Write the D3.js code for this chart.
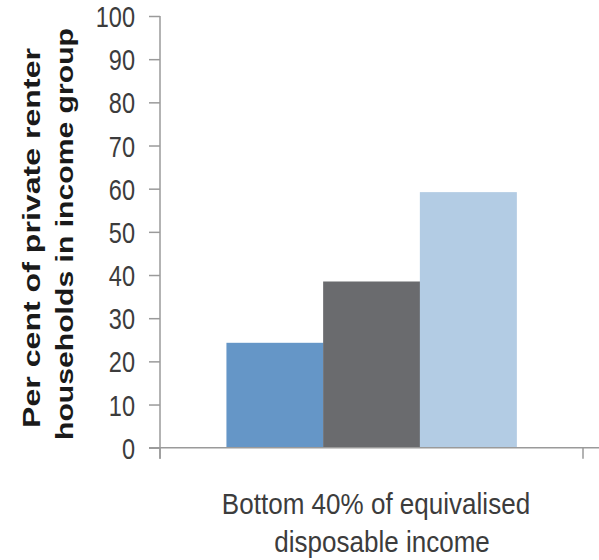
<!DOCTYPE html>
<html>
<head>
<meta charset="utf-8">
<script src="https://cdn.jsdelivr.net/npm/d3@7/dist/d3.min.js"></script>
<style>
  html, body { margin: 0; padding: 0; background: #fff; }
  svg { display: block; }
</style>
</head>
<body>
<svg id="chart" width="599" height="560"></svg>
<script>
// ---- data ----
const categories = ["Bottom 40% of equivalised disposable income"];
const categoryLines = ["Bottom 40% of equivalised", "disposable income"];
const seriesNames = ["Series 1", "Series 2", "Series 3"];
const seriesValues = [24.3, 38.5, 59.2];
const seriesColors = ["#6596c7", "#6a6b6e", "#b3cce4"];
const yTicks = [0, 10, 20, 30, 40, 50, 60, 70, 80, 90, 100];
const yTitleLines = ["Per cent of private renter", "households in income group"];

// ---- layout ----
const svg = d3.select("#chart");
const x0 = 160, x1 = 583, yBottom = 447.7, yTop = 16;
const axisColor = "#9a9a9a";
const textColor = "#3c3c3c";

const y = d3.scaleLinear().domain([0, 100]).range([yBottom, yTop]);
const xCat = d3.scaleBand().domain(categories).range([x0, x1]).paddingInner(0).paddingOuter(0.229);
const xSer = d3.scaleBand().domain(seriesNames).range([0, xCat.bandwidth()]).padding(0);

// bars
const g = svg.append("g");
categories.forEach(cat => {
  g.selectAll("rect.bar")
    .data(seriesNames.map((s, i) => ({ s, v: seriesValues[i], c: seriesColors[i] })))
    .enter().append("rect")
    .attr("class", "bar")
    .attr("x", d => xCat(cat) + xSer(d.s))
    .attr("width", xSer.bandwidth() + 0.3)
    .attr("y", d => y(d.v))
    .attr("height", d => y(0) - y(d.v))
    .attr("fill", d => d.c);
});

// y axis
const yAxis = d3.axisLeft(y).tickValues(yTicks).tickSize(11).tickSizeOuter(0).tickFormat("");
const ya = svg.append("g").attr("transform", `translate(${x0},0)`).call(yAxis);
ya.select(".domain").remove();
ya.selectAll(".tick line").attr("stroke", axisColor).attr("stroke-width", 1.5);
svg.append("line").attr("x1", x0).attr("x2", x0).attr("y1", y(100)).attr("y2", yBottom + 11)
  .attr("stroke", axisColor).attr("stroke-width", 1.5);

// y tick labels
svg.append("g").selectAll("text").data(yTicks).enter().append("text")
  .attr("transform", d => `translate(135,${y(d) + 11}) scale(0.84,1.05)`)
  .attr("text-anchor", "end")
  .attr("font-family", "Liberation Sans, Arial, sans-serif")
  .attr("font-size", 28)
  .attr("fill", textColor)
  .text(d => d);

// x axis
svg.append("line").attr("x1", x0 - 11).attr("x2", 599).attr("y1", yBottom).attr("y2", yBottom)
  .attr("stroke", axisColor).attr("stroke-width", 1.5);
svg.append("g").selectAll("line").data([x0, x1]).enter().append("line")
  .attr("x1", d => d).attr("x2", d => d).attr("y1", yBottom).attr("y2", yBottom + 11)
  .attr("stroke", axisColor).attr("stroke-width", 1.5);

// category label
const catCenters = [376, 382];
const catBaselines = [514, 552];
svg.append("g").selectAll("text").data(categoryLines).enter().append("text")
  .attr("transform", (d, i) => `translate(${catCenters[i]},${catBaselines[i]}) scale(0.93,1.03)`)
  .attr("text-anchor", "middle")
  .attr("font-family", "Liberation Sans, Arial, sans-serif")
  .attr("font-size", 28)
  .attr("fill", textColor)
  .text(d => d);

// y title
const titleX = [40, 73];
const titleCenters = [238, 234];
const titleLens = [380, 412];
svg.append("g").selectAll("text").data(yTitleLines).enter().append("text")
  .attr("transform", (d, i) => `translate(${titleX[i]},${titleCenters[i]}) rotate(-90)`)
  .attr("text-anchor", "middle")
  .attr("font-family", "Liberation Sans, Arial, sans-serif")
  .attr("font-weight", "bold")
  .attr("font-size", 24)
  .attr("fill", "#1a1a1a")
  .attr("textLength", (d, i) => titleLens[i])
  .attr("lengthAdjust", "spacingAndGlyphs")
  .text(d => d);
</script>
</body>
</html>
